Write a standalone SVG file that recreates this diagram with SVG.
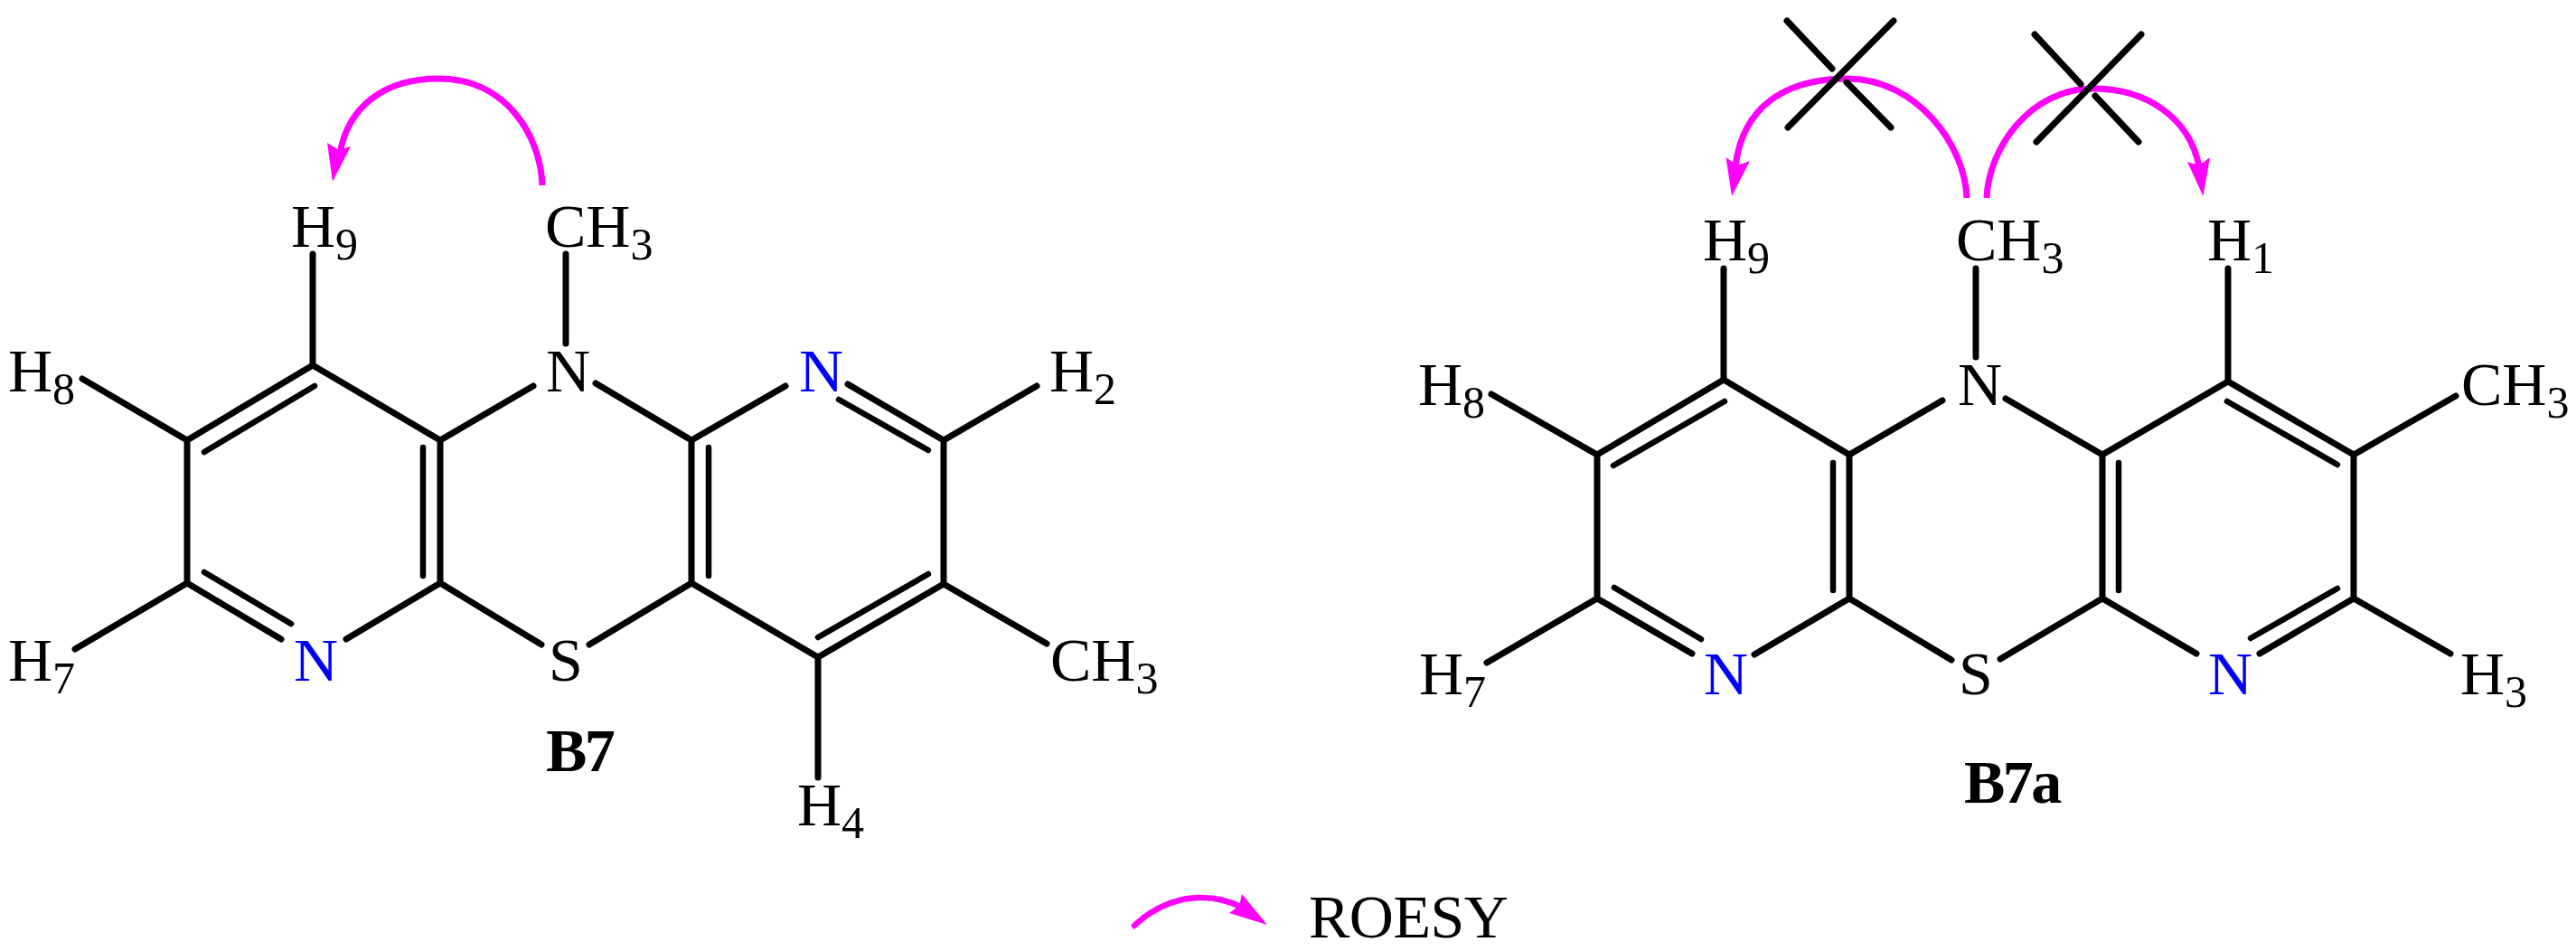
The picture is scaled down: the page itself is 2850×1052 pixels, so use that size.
<svg xmlns="http://www.w3.org/2000/svg" width="2850" height="1052" viewBox="0 0 2850 1052">
<style>
text{font-family:"Liberation Serif","Times New Roman",serif;font-size:68px;fill:#000}
tspan.s{font-size:50px}
.blue{fill:#0000ff}
.bold{font-weight:bold;letter-spacing:-2.5px}
.b{stroke:#000;stroke-width:7;stroke-linecap:round;fill:none}
.i{stroke:#000;stroke-width:6.5;stroke-linecap:round;fill:none}
.arc{stroke:#ff00ff;stroke-width:7;fill:none}
.head{fill:#ff00ff}
</style>
<rect width="2850" height="1052" fill="#fff"/>
<g id="connectors">
<g id="bonds-B7">
<path class="b" d="M207,487L346,404L487,487L487,645M207,487L207,645L83,718M207,645L311,707M487,645L383,707M487,645L599,713M487,487L590,427M346,404L346,281M207,487L91,419M626,281L626,380M659,424L765,487L869,427M765,487L765,645L652,713M765,645L905,727L1044,646L1044,487L938,425M1044,487L1147,427M1044,646L1158,712M905,727L905,860"/>
<path class="i" d="M348,427L226,500M226,633L322,690M468,495L468,637M784,495L784,637M928,442L1027,498M905,705L1027,635"/>
</g>
<g id="bonds-B7a">
<path class="b" d="M1767,503L1907,420L2046,503L2046,662M1767,503L1767,662L1645,733M1767,662L1872,723M2046,662L1941,724M2046,662L2159,730M2046,503L2149,443M1907,420L1907,297M1767,503L1650,436M2186,297L2186,395M2219,441L2326,503L2465,422L2604,503L2604,662L2500,723M2326,503L2326,662L2430,723M2326,662L2213,729M2604,662L2711,723M2604,503L2717,438M2465,422L2465,297"/>
<path class="i" d="M1908,444L1785,515M1786,650L1882,707M2028,512L2028,653M2344,512L2344,653M2464,444L2586,514M2586,651L2490,706"/>
</g>
<g id="roesy-arrows">
<path class="arc" d="M600,205C598,150 560,87 485,87C425,87 385,118 376,170"/>
<path class="head" d="M368,201L362,158L375,166L388,162Z"/>
<path class="arc" d="M2176,219C2174,160 2120,87 2044,87C1975,87 1928,118 1920,184"/>
<path class="head" d="M1916,217L1909.5,174L1922,183L1936,178Z"/>
<path class="arc" d="M2198,219C2200,165 2245,98 2316,98C2375,98 2422,130 2433,184"/>
<path class="head" d="M2437.5,217L2420,179L2433,183L2445,174Z"/>
<path d="M1255,1024C1280,1000 1310,992 1330,993C1345,993 1360,997 1372,1003" stroke="#ff00ff" stroke-width="6.5" stroke-linecap="round" fill="none"/>
<path class="head" d="M1402,1023L1360,1010L1371,1002L1374,989Z"/>
</g>
<g id="crosses">
<path class="b" d="M2095,23L1978,141M1977,23L2027,76M2043,91L2092,141"/>
<path class="b" d="M2369,38L2253,157M2251,38L2302,93M2318,106L2366,157"/>
</g>
</g>
<g id="B7">
<g id="b7-h9"><text x="322" y="273">H<tspan class="s" dy="14">9</tspan></text></g>
<g id="b7-ch3-top"><text x="603" y="273">CH<tspan class="s" dy="14">3</tspan></text></g>
<g id="b7-h8"><text x="9" y="433">H<tspan class="s" dy="14">8</tspan></text></g>
<g id="b7-n"><text x="604" y="433">N</text></g>
<g id="b7-n-top"><text class="blue" x="884" y="433">N</text></g>
<g id="b7-h2"><text x="1161" y="433">H<tspan class="s" dy="14">2</tspan></text></g>
<g id="b7-h7"><text x="9" y="753">H<tspan class="s" dy="14">7</tspan></text></g>
<g id="b7-n-bottom"><text class="blue" x="325" y="753">N</text></g>
<g id="b7-s"><text x="607" y="753">S</text></g>
<g id="b7-ch3-bottom"><text x="1162" y="753">CH<tspan class="s" dy="14">3</tspan></text></g>
<g id="b7-h4"><text x="882" y="913">H<tspan class="s" dy="14">4</tspan></text></g>
<g id="b7-label"><text class="bold" x="604" y="853">B7</text></g>
</g>
<g id="B7a">
<g id="b7a-h9"><text x="1884" y="288">H<tspan class="s" dy="14">9</tspan></text></g>
<g id="b7a-ch3-top"><text x="2164" y="288">CH<tspan class="s" dy="14">3</tspan></text></g>
<g id="b7a-h1"><text x="2442" y="288">H<tspan class="s" dy="14">1</tspan></text></g>
<g id="b7a-h8"><text x="1569" y="448">H<tspan class="s" dy="14">8</tspan></text></g>
<g id="b7a-n"><text x="2166" y="448">N</text></g>
<g id="b7a-ch3-right"><text x="2723" y="448">CH<tspan class="s" dy="14">3</tspan></text></g>
<g id="b7a-h7"><text x="1570" y="768">H<tspan class="s" dy="14">7</tspan></text></g>
<g id="b7a-n-left"><text class="blue" x="1885" y="768">N</text></g>
<g id="b7a-s"><text x="2167" y="768">S</text></g>
<g id="b7a-n-right"><text class="blue" x="2443" y="768">N</text></g>
<g id="b7a-h3"><text x="2722" y="768">H<tspan class="s" dy="14">3</tspan></text></g>
<g id="b7a-label"><text class="bold" x="2173" y="888">B7a</text></g>
</g>
<g id="legend"><text x="1448" y="1037" letter-spacing="-0.5">ROESY</text></g>
</svg>
